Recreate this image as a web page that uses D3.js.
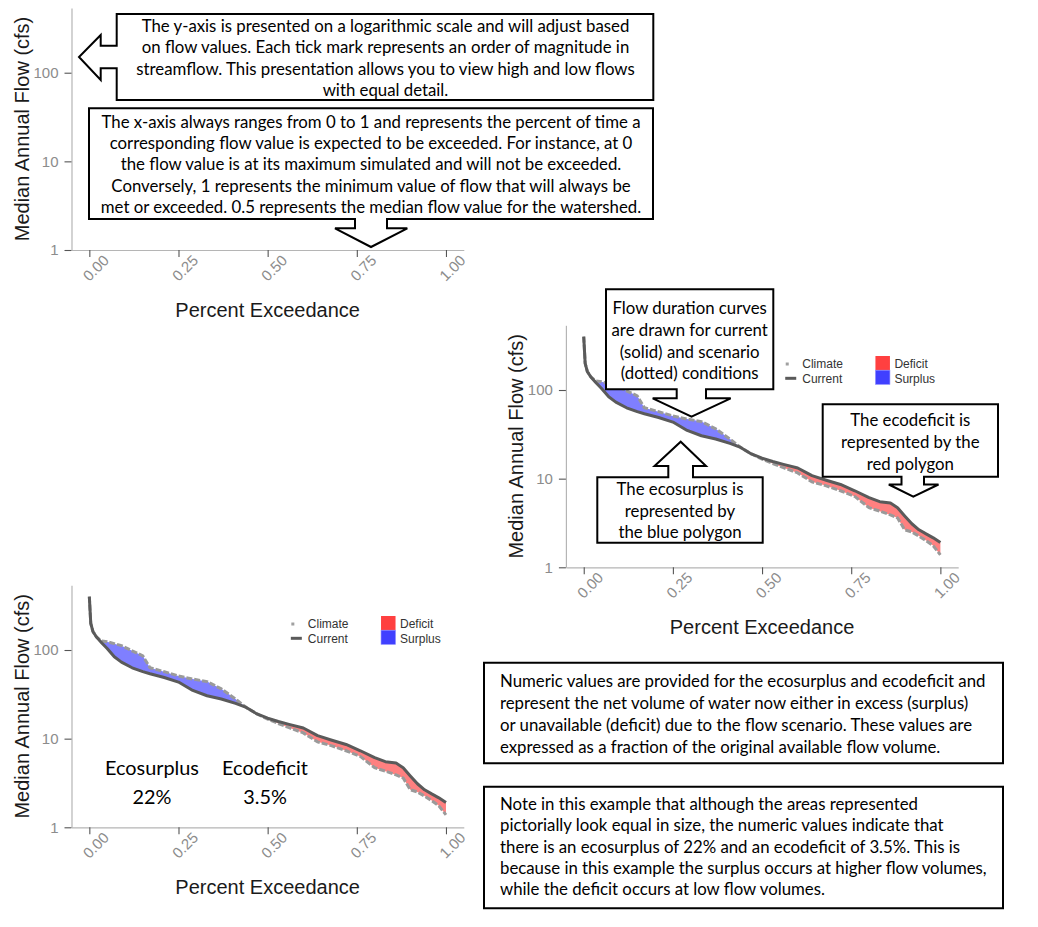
<!DOCTYPE html>
<html><head><meta charset="utf-8">
<script src="https://cdn.jsdelivr.net/npm/d3@7"></script>
<style>body{margin:0;background:#fff} svg{display:block}</style>
</head><body>
<svg id="c" width="1038" height="927"></svg>
<script>
// ---------------- data ----------------
const exceedance  = [0, 0.004, 0.01, 0.02, 0.035, 0.05, 0.07, 0.09, 0.12, 0.15, 0.17, 0.21, 0.25, 0.29, 0.33, 0.37, 0.41, 0.44, 0.47, 0.50, 0.53, 0.56, 0.60, 0.64, 0.68, 0.72, 0.76, 0.80, 0.83, 0.86, 0.88, 0.90, 0.92, 0.94, 0.96, 0.98, 1.0];
const currentFlow = [400, 200, 162, 140, 120, 104, 84, 73, 63, 57, 54, 49, 43.5, 35, 30.5, 28, 25, 22.5, 19, 17, 15.6, 14.5, 13.2, 10.8, 9.6, 8.6, 7.3, 6.1, 5.5, 5.3, 4.7, 3.8, 3.1, 2.65, 2.38, 2.15, 1.9];
const climateFlow = [400, 200, 162, 140, 126, 124, 118, 112, 98, 86, 63, 57, 51, 47, 44, 36.5, 28, 22.5, 19, 16.6, 14.8, 13.3, 11.6, 9.2, 8.3, 7.3, 6.3, 4.7, 4.3, 3.9, 3.6, 2.65, 2.5, 2.25, 2.0, 1.75, 1.38];
const xTickValues = [0, 0.25, 0.5, 0.75, 1];
const yTickValues = [1, 10, 100];
const xTitle = "Percent Exceedance";
const yTitle = "Median Annual Flow (cfs)";
const lineLegend = ["Climate", "Current"];
const fillLegend = ["Deficit", "Surplus"];
const summaryLabels = ["Ecosurplus", "Ecodeficit"];
const summaryValues = ["22%", "3.5%"];

const calloutA = ["The y-axis is presented on a logarithmic scale and will adjust based",
  "on flow values. Each tick mark represents an order of magnitude in",
  "streamflow. This presentation allows you to view high and low flows",
  "with equal detail."];
const calloutB = ["The x-axis always ranges from 0 to 1 and represents the percent of time a",
  "corresponding flow value is expected to be exceeded. For instance, at 0",
  "the flow value is at its maximum simulated and will not be exceeded.",
  "Conversely, 1 represents the minimum value of flow that will always be",
  "met or exceeded. 0.5 represents the median flow value for the watershed."];
const calloutC = ["Flow duration curves", "are drawn for current", "(solid) and scenario", "(dotted) conditions"];
const calloutD = ["The ecosurplus is", "represented by", "the blue polygon"];
const calloutE = ["The ecodeficit is", "represented by the", "red polygon"];
const noteF = ["Numeric values are provided for the ecosurplus and ecodeficit and",
  "represent the net volume of water now either in excess (surplus)",
  "or unavailable (deficit) due to the flow scenario. These values are",
  "expressed as a fraction of the original available flow volume."];
const noteG = ["Note in this example that although the areas represented",
  "pictorially look equal in size, the numeric values indicate that",
  "there is an ecosurplus of 22% and an ecodeficit of 3.5%. This is",
  "because in this example the surplus occurs at higher flow volumes,",
  "while the deficit occurs at low flow volumes."];

// ---------------- drawing ----------------
const svg = d3.select("#c");
const AX = "Liberation Sans, Arial, sans-serif";
const CAL = "Lato, 'Open Sans', sans-serif";
const rows = exceedance.map((e, i) => ({e, cur: currentFlow[i], cli: climateFlow[i]}));

function drawPanel(dx, base, withData) {
  const g = svg.append("g");
  const x = d3.scaleLinear().domain([-0.05, 1.05]).range([71.5 + dx, 463.8 + dx]);
  const y = d3.scaleLog().domain([1, 537]).range([base, base - 242]);

  const ya = g.append("g").attr("transform", `translate(${71.5 + dx},0)`)
    .call(d3.axisLeft(y).tickValues(yTickValues).tickFormat(d3.format("d")).tickSize(7).tickSizeOuter(0).tickPadding(6));
  const xa = g.append("g").attr("transform", `translate(0,${base})`)
    .call(d3.axisBottom(x).tickValues(xTickValues).tickFormat(d3.format(".2f")).tickSize(7).tickSizeOuter(0));
  [ya, xa].forEach(a => {
    a.select(".domain").attr("stroke", "#b5b5b5").attr("stroke-width", 1.2);
    a.selectAll(".tick line").attr("stroke", "#555").attr("stroke-width", 1.1);
    a.selectAll("text").attr("fill", "#8c8c8c").attr("font-family", AX).attr("font-size", 15);
  });
  xa.selectAll("text").attr("y", null).attr("dy", "0.35em").attr("text-anchor", "middle")
    .attr("transform", "translate(6,18) rotate(-45)");

  g.append("text").attr("x", x(0.5)).attr("y", base + 60).attr("dy", "0.35em")
    .attr("text-anchor", "middle").attr("font-family", AX).attr("font-size", 20).attr("fill", "#1a1a1a").text(xTitle);
  g.append("text").attr("transform", `translate(${22 + dx},${base - 121}) rotate(-90)`).attr("dy", "0.35em")
    .attr("text-anchor", "middle").attr("font-family", AX).attr("font-size", 20).attr("fill", "#1a1a1a").text(yTitle);

  if (!withData) return {x, y, g};

  const surplus = d3.area().x(d => x(d.e)).y0(d => y(d.cur)).y1(d => y(Math.max(d.cur, d.cli)));
  const deficit = d3.area().x(d => x(d.e)).y0(d => y(Math.min(d.cur, d.cli))).y1(d => y(d.cur));
  g.append("path").datum(rows).attr("d", surplus).attr("fill", "#7f7fff");
  g.append("path").datum(rows).attr("d", deficit).attr("fill", "#ff8080");
  g.append("path").datum(rows).attr("fill", "none").attr("stroke", "#9a9a9a").attr("stroke-width", 3)
    .attr("stroke-dasharray", "6,2").attr("d", d3.line().x(d => x(d.e)).y(d => y(d.cli)));
  g.append("path").datum(rows).attr("fill", "none").attr("stroke", "#5a5a5a").attr("stroke-width", 3)
    .attr("stroke-linejoin", "round").attr("d", d3.line().x(d => x(d.e)).y(d => y(d.cur)));

  // legend
  const lx = x(0), ly = y(100);
  const leg = g.append("g").attr("font-family", AX).attr("font-size", 12).attr("fill", "#333");
  leg.append("rect").attr("x", lx + 202).attr("y", ly - 27.5).attr("width", 3).attr("height", 3).attr("fill", "#a0a0a0");
  leg.append("line").attr("x1", lx + 201.5).attr("x2", lx + 212.5).attr("y1", ly - 11.7).attr("y2", ly - 11.7)
    .attr("stroke", "#5a5a5a").attr("stroke-width", 3);
  lineLegend.forEach((t, i) => leg.append("text").attr("x", lx + 218.5).attr("y", ly - 26.3 + i * 14.6).attr("dy", "0.35em").text(t));
  const fillCols = ["#ff4040", "#4040ff"];
  fillLegend.forEach((t, i) => {
    leg.append("rect").attr("x", lx + 291.7).attr("y", ly - 34 + i * 14.2).attr("width", 14.5).attr("height", 14.2)
      .attr("fill", fillCols[i]).attr("stroke", i === 1 ? "#8f8fff" : "none").attr("stroke-width", 0.6);
    leg.append("text").attr("x", lx + 310.7).attr("y", ly - 26.3 + i * 14.6).attr("dy", "0.35em").text(t);
  });
  return {x, y, g};
}

drawPanel(0, 250, false);
drawPanel(494.4, 567.3, true);
const p3 = drawPanel(0, 827.3, true);

// font fitting helper
function measure(txt, family, size) {
  const t = svg.append("text").attr("font-family", family).attr("font-size", size).text(txt);
  const w = t.node().getComputedTextLength(); t.remove(); return w;
}
const calSize = (488 / measure(calloutA[0], CAL, 100) * 100 + 540.7 / measure(calloutB[4], CAL, 100) * 100) / 2;
const sumSize = 94 / measure(summaryLabels[0], CAL, 100) * 100;

// summary labels in panel 3
const sx = [152, 265];
summaryLabels.forEach((t, i) => {
  svg.append("text").attr("x", sx[i]).attr("y", 767.7).attr("dy", "0.35em").attr("text-anchor", "middle")
    .attr("font-family", CAL).attr("font-size", sumSize).attr("fill", "#000").text(t);
  svg.append("text").attr("x", sx[i]).attr("y", 796.7).attr("dy", "0.35em").attr("text-anchor", "middle")
    .attr("font-family", CAL).attr("font-size", sumSize).attr("fill", "#000").text(summaryValues[i]);
});

// callout shapes
const shapes = [
  "M116.7,14 H653.3 V100 H116.7 V68.3 H100.7 V80 L79,57 L100.7,35 V45.7 H116.7 Z",
  "M89,108.3 H653 V219 H387 V228.3 H407.3 L371,247 L335,228.3 H355 V219 H89 Z",
  "M606,289.3 H773.3 V389.3 H706 V398.3 H730.7 L691.5,416.7 L652.7,398.3 H676.7 V389.3 H606 Z",
  "M597.3,477.3 H668.3 V466 H654.5 L680.7,441.7 L706,466 H693 V477.3 H762.7 V542.7 H597.3 Z",
  "M822.7,404.3 H998 V476.7 H924 V484.5 H938.5 L913.3,496.7 L888.8,484.5 H901.5 V476.7 H822.7 Z",
  "M484,662.7 H1003 V763.3 H484 Z",
  "M484,786.7 H1003 V908.3 H484 Z"
];
shapes.forEach(d => svg.append("path").attr("d", d).attr("fill", "#fff").attr("stroke", "#000").attr("stroke-width", 2));

function block(lines, x, y0, step, anchor) {
  lines.forEach((t, i) => svg.append("text").attr("x", x).attr("y", y0 + i * step).attr("dy", "0.35em")
    .attr("text-anchor", anchor).attr("font-family", CAL).attr("font-size", calSize).attr("fill", "#000").text(t));
}
block(calloutA, 385.5, 26, 21.5, "middle");
block(calloutB, 371, 121.7, 21.4, "middle");
block(calloutC, 689.7, 308.3, 21.7, "middle");
block(calloutD, 680, 489.5, 21.2, "middle");
block(calloutE, 910.3, 420, 22, "middle");
block(noteF, 500, 681.5, 21.8, "start");
block(noteG, 500, 804.3, 21.3, "start");
</script>
</body></html>
